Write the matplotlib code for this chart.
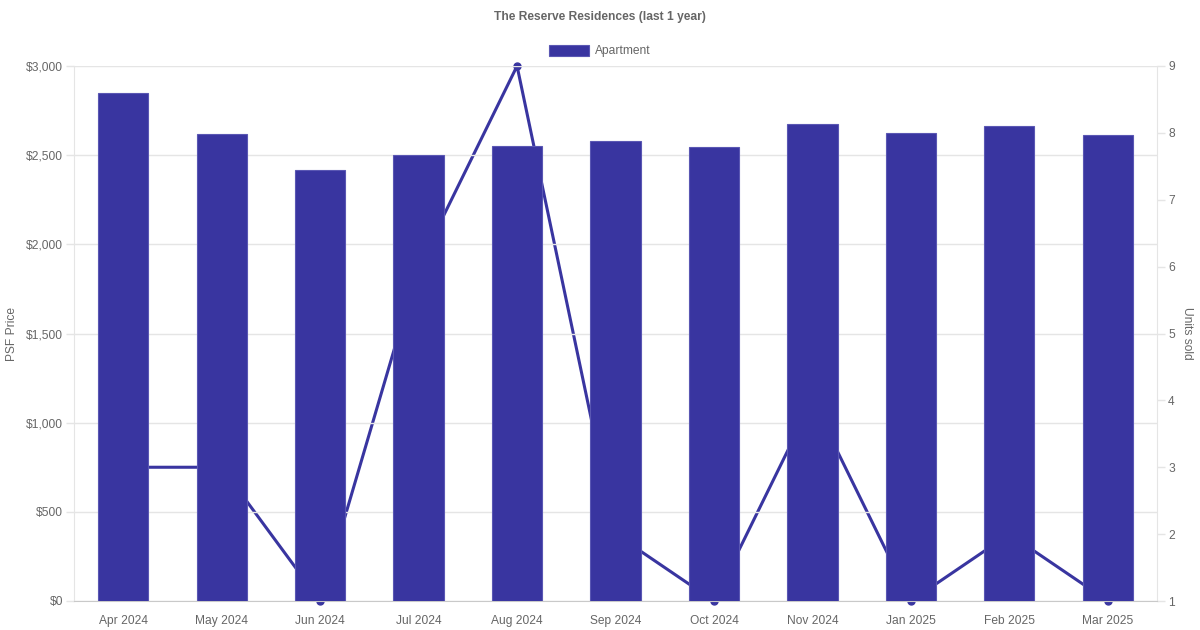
import matplotlib
matplotlib.use("Agg")
import matplotlib.pyplot as plt
from matplotlib.patches import Rectangle
from matplotlib.ticker import FuncFormatter, MultipleLocator

months = ["Apr 2024", "May 2024", "Jun 2024", "Jul 2024", "Aug 2024", "Sep 2024",
          "Oct 2024", "Nov 2024", "Jan 2025", "Feb 2025", "Mar 2025"]
psf_price = [2848, 2619, 2417, 2501, 2551, 2579, 2546, 2675, 2624, 2664, 2613]
units_sold = [3, 3, 1, 6, 9, 2, 1, 4, 1, 2, 1]

title = "The Reserve Residences (last 1 year)"
series_name = "Apartment"
color = "#3935A0"
edge = "#5a57b3"
text_color = "#666666"
grid_color = "#e5e5e5"

plt.rcParams['font.family'] = ['Liberation Sans', 'DejaVu Sans']
fs = 8.64

fig = plt.figure(figsize=(12, 6.3), dpi=100)
ax = fig.add_axes([74/1200, 1-601/630, (1157-74)/1200, (601-66)/630])
ax2 = ax.twinx()
ax.set_zorder(2)
ax2.set_zorder(1)
ax.patch.set_visible(False)

x = list(range(len(months)))
ax.bar(x, psf_price, width=0.51, color=color, edgecolor=edge, linewidth=0.8, zorder=3)
ax2.plot(x, units_sold, color=color, linewidth=2.2, marker='o', markersize=5,
         zorder=2, solid_joinstyle='miter', clip_on=False)

ax.set_xlim(-0.5, len(months) - 0.5)
ax.set_ylim(0, 3000)
ax2.set_ylim(1, 9)
ax.yaxis.set_major_locator(MultipleLocator(500))
ax.yaxis.set_major_formatter(FuncFormatter(lambda v, p: f"${int(v):,}"))
ax2.yaxis.set_major_locator(MultipleLocator(1))

ax.set_xticks(x)
ax.set_xticklabels(months)
ax.grid(axis='y', color=grid_color, linewidth=1, zorder=0)
ax.set_axisbelow(True)

for a in (ax, ax2):
    a.tick_params(labelsize=fs, labelcolor=text_color, color=grid_color, length=5.8, width=1, pad=2.2)
    for s in a.spines.values():
        s.set_visible(False)
ax.spines['left'].set_visible(True)
ax.spines['left'].set_color(grid_color)
ax.spines['bottom'].set_visible(True)
ax.spines['bottom'].set_color('#c9c9c9')
ax2.spines['right'].set_visible(True)
ax2.spines['right'].set_color(grid_color)
ax.tick_params(axis='x', length=0, pad=10)

ax.set_ylabel("PSF Price", fontsize=fs, color=text_color, labelpad=6)
ax2.set_ylabel("Units sold", fontsize=fs, color=text_color, rotation=270, labelpad=13)

fig.text(0.5, 1 - 17/630, title, ha='center', va='center', fontsize=fs,
         fontweight='bold', color=text_color)

handle = Rectangle((0, 0), 1, 1, facecolor=color, edgecolor=edge, linewidth=0.8)
fig.legend([handle], [series_name], loc='center', bbox_to_anchor=(0.5, 1 - 51/630),
           frameon=False, fontsize=fs, handlelength=3.33, handleheight=1.0,
           handletextpad=0.5, labelcolor=text_color)

fig.savefig("out.png", dpi=100)
